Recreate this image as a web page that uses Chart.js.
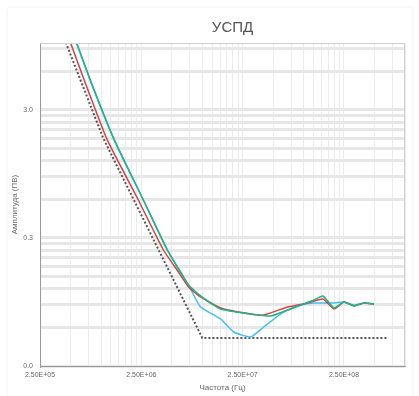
<!DOCTYPE html>
<html>
<head>
<meta charset="utf-8">
<script src="https://cdn.jsdelivr.net/npm/chart.js@4.4.1/dist/chart.umd.min.js"></script>
<style>
  body { margin: 0; background: #fff; }
  #card { position: absolute; left: 8px; top: 8px; width: 404px; height: 400px; box-shadow: 0 0 4px rgba(0,0,0,0.07); }
  #myChart { position: absolute; left: 0; top: 0; }
</style>
</head>
<body>
<div id="card"></div>
<canvas id="myChart" width="419" height="396"></canvas>
<script>
// данные (частота, Гц / амплитуда)
var freqLimit = [3.68e5, 1.05e6, 1.0e7, 6.66e8];
var ampLimit = [15.1, 1.81, 0.0496, 0.0496];

var freqGreen = [4.95e5, 7.82e5, 1.351e6, 2.617e6, 4.52e6, 6.08e6, 7.30e6, 9.60e6, 1.514e7, 3.00e7, 4.73e7, 6.97e7, 9.38e7, 1.262e8, 1.549e8, 1.99e8, 2.5e8, 3.14e8, 3.94e8, 4.95e8];
var ampGreen = [13.8, 5.15, 1.75, 0.594, 0.2416, 0.1627, 0.1288, 0.1057, 0.0836, 0.0764, 0.0737, 0.0821, 0.0899, 0.0983, 0.1057, 0.0852, 0.0949, 0.0883, 0.0932, 0.0915];

var freqRed = [4.32e5, 6.82e5, 1.152e6, 2.335e6, 4.13e6, 5.81e6, 7.30e6, 9.60e6, 1.514e7, 3.00e7, 4.03e7, 6.97e7, 1.1e8, 1.549e8, 1.99e8, 2.5e8, 3.14e8, 3.94e8, 4.95e8];
var ampRed = [13.8, 5.15, 1.75, 0.594, 0.2416, 0.1627, 0.1243, 0.1038, 0.0852, 0.0764, 0.0751, 0.0867, 0.0932, 0.1001, 0.0836, 0.0949, 0.0883, 0.0932, 0.0915];

var freqBlue = [4.95e5, 7.82e5, 1.351e6, 2.617e6, 4.52e6, 6.08e6, 7.30e6, 9.60e6, 1.514e7, 2.036e7, 3.00e7, 4.03e7, 6.37e7, 9.38e7, 1.262e8, 1.99e8, 2.5e8, 3.14e8, 3.94e8, 4.95e8];
var ampBlue = [13.8, 5.15, 1.75, 0.594, 0.2416, 0.1627, 0.1288, 0.0867, 0.0699, 0.0553, 0.0506, 0.0605, 0.0793, 0.0899, 0.0932, 0.0932, 0.0949, 0.0899, 0.0932, 0.0915];

var xMin = 2.5e5, xMax = 1e9;
var yMin = 0.03, yMax = 10;
var tickMult = [1, 2, 3, 4, 5, 6, 7, 8, 9];

function toPoints(xs, ys) {
  return xs.map(function (x, i) { return { x: x, y: ys[i] }; });
}

function logTicks(start, decades, max) {
  var t = [];
  for (var d = 0; d < decades; d++) {
    tickMult.forEach(function (k) {
      var v = start * Math.pow(10, d) * k;
      if (v <= max * 1.0001) t.push({ value: v });
    });
  }
  return t;
}

function isMajor(v, start) {
  var l = Math.log10(v / start);
  return Math.abs(l - Math.round(l)) < 1e-6;
}

var fontFam = "'Liberation Sans', Arial, sans-serif";

// рамка сверху/справа + сдвиг заголовка к центру графика
const borderBox = {
  id: 'borderBox',
  afterLayout(chart) {
    if (chart.titleBlock) {
      chart.titleBlock.left = 60;
      chart.titleBlock.right = 405;
    }
  },
  afterDraw(chart) {
    const a = chart.chartArea, c = chart.ctx;
    c.save();
    c.strokeStyle = '#cfcfcf';
    c.lineWidth = 1;
    c.beginPath();
    c.moveTo(a.left, a.top + 0.5);
    c.lineTo(a.right - 0.5, a.top + 0.5);
    c.lineTo(a.right - 0.5, a.bottom);
    c.stroke();
    c.restore();
  }
};

// первый набор рисуется сверху
const config = {
  type: 'line',
  data: {
    datasets: [
      {
        label: 'Зелёный',
        data: toPoints(freqGreen, ampGreen),
        borderColor: '#22b285',
        borderWidth: 1.6,
        pointRadius: 0,
        tension: 0.15
      },
      {
        label: 'Красный',
        data: toPoints(freqRed, ampRed),
        borderColor: '#d9413f',
        borderWidth: 1.5,
        pointRadius: 0,
        tension: 0.15
      },
      {
        label: 'Синий',
        data: toPoints(freqBlue, ampBlue),
        borderColor: '#45bff0',
        borderWidth: 1.5,
        pointRadius: 0,
        tension: 0.15
      },
      {
        label: 'Предел',
        data: toPoints(freqLimit, ampLimit),
        borderColor: '#555',
        borderWidth: 2,
        borderDash: [2, 2],
        pointRadius: 0,
        tension: 0
      }
    ]
  },
  options: {
    responsive: false,
    animation: false,
    layout: { padding: { left: 0, right: 14, top: 0, bottom: 0 } },
    plugins: {
      legend: { display: false },
      tooltip: { enabled: false },
      title: {
        display: true,
        text: 'УСПД',
        color: '#555',
        font: { family: fontFam, size: 15, weight: 'normal' },
        padding: { top: 19, bottom: 6 }
      }
    },
    scales: {
      x: {
        type: 'logarithmic',
        min: xMin,
        max: xMax,
        afterBuildTicks: function (scale) { scale.ticks = logTicks(xMin, 4, xMax); },
        afterFit: function (scale) { scale.height = 30; },
        ticks: {
          autoSkip: false,
          maxRotation: 0,
          padding: 5,
          color: '#666',
          font: { family: fontFam, size: 7 },
          callback: function (v) {
            if (!isMajor(v, xMin)) return '';
            var e = Math.round(Math.log10(v / 2.5));
            return '2.50E+' + String(e).padStart(2, '0');
          }
        },
        grid: { color: '#ececec', lineWidth: 1, drawTicks: false },
        border: { color: '#999' },
        title: {
          display: true,
          text: 'Частота (Гц)',
          color: '#666',
          font: { family: fontFam, size: 8 },
          padding: { top: 0, bottom: 3 }
        }
      },
      y: {
        type: 'logarithmic',
        min: yMin,
        max: yMax,
        afterBuildTicks: function (scale) { scale.ticks = logTicks(yMin, 3, yMax); },
        afterFit: function (scale) { scale.width = 40; },
        ticks: {
          autoSkip: false,
          padding: 7,
          color: '#666',
          font: { family: fontFam, size: 7 },
          callback: function (v) {
            return isMajor(v, yMin) ? v.toFixed(1) : '';
          }
        },
        grid: { color: '#e7e7e7', lineWidth: 3, drawTicks: false },
        border: { color: '#999' },
        title: {
          display: true,
          text: 'Амплитуда (ПВ)',
          color: '#666',
          font: { family: fontFam, size: 8 },
          padding: { top: 10, bottom: 0 }
        }
      }
    }
  },
  plugins: [borderBox]
};

const ctx = document.getElementById('myChart');
const chart = new Chart(ctx, config);
</script>
</body>
</html>
